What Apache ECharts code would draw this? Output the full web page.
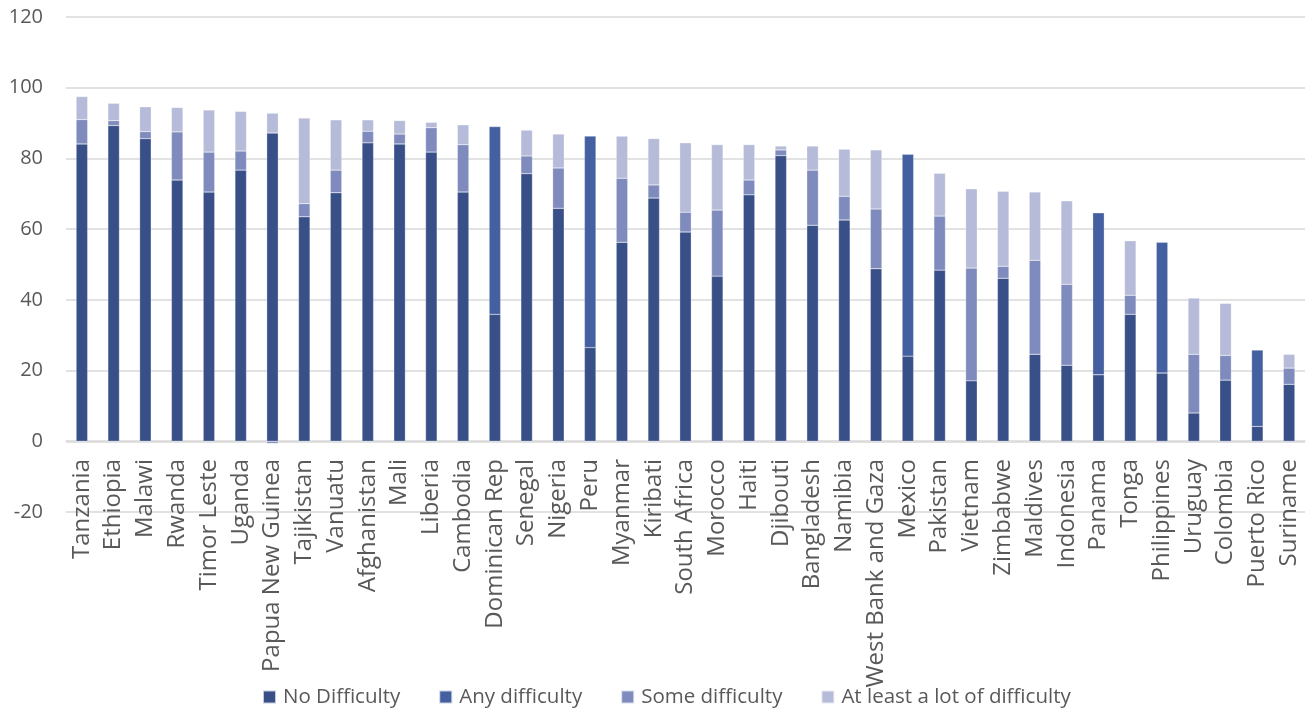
<!DOCTYPE html>
<html>
<head>
<meta charset="utf-8">
<script src="https://cdn.jsdelivr.net/npm/echarts@6/dist/echarts.min.js"></script>
<style>
  html, body { margin: 0; padding: 0; background: #fff; }
  #chart { width: 1307px; height: 709px; }
</style>
</head>
<body>
<div id="chart"></div>
<script>
// countries, sorted by share with no difficulty + difficulty (as in the source chart)
const countries = ['Tanzania', 'Ethiopia', 'Malawi', 'Rwanda', 'Timor Leste', 'Uganda', 'Papua New Guinea',
  'Tajikistan', 'Vanuatu', 'Afghanistan', 'Mali', 'Liberia', 'Cambodia', 'Dominican Rep', 'Senegal',
  'Nigeria', 'Peru', 'Myanmar', 'Kiribati', 'South Africa', 'Morocco', 'Haiti', 'Djibouti', 'Bangladesh',
  'Namibia', 'West Bank and Gaza', 'Mexico', 'Pakistan', 'Vietnam', 'Zimbabwe', 'Maldives', 'Indonesia',
  'Panama', 'Tonga', 'Philippines', 'Uruguay', 'Colombia', 'Puerto Rico', 'Suriname']

const noDifficulty = [84.1, 89.3, 85.6, 73.9, 70.5, 76.7, 87.2, 63.5, 70.3, 84.4, 84.1, 81.8, 70.5, 35.9, 75.7,
  65.9, 26.5, 56.3, 68.8, 59.2, 46.7, 69.7, 80.8, 61.1, 62.6, 48.8, 24.1, 48.4, 17.1, 46.1, 24.6, 21.5,
  18.8, 35.9, 19.3, 8.0, 17.3, 4.2, 16.1]

const anyDifficulty = [null, null, null, null, null, null, null, null, null, null, null, null, null, 53.1, null,
  null, 59.8, null, null, null, null, null, null, null, null, null, 57.1, null, null, null, null, null,
  45.8, null, 37.0, null, null, 21.6, null]

const someDifficulty = [6.9, 1.4, 2.0, 13.6, 11.3, 5.4, -0.6, 3.7, 6.4, 3.3, 2.8, 6.9, 13.4, null, 5.0,
  11.4, null, 18.1, 3.7, 5.6, 18.7, 4.2, 1.6, 15.6, 6.7, 16.9, null, 15.3, 31.9, 3.4, 26.6, 22.9,
  null, 5.4, null, 16.6, 7.0, null, 4.6]

const lotDifficulty = [6.5, 4.9, 7.0, 6.9, 11.9, 11.2, 5.6, 24.2, 14.2, 3.2, 3.8, 1.5, 5.6, null, 7.3,
  9.6, null, 11.9, 13.1, 19.6, 18.5, 10.0, 1.1, 6.8, 13.3, 16.7, null, 12.1, 22.4, 21.2, 19.3, 23.6,
  null, 15.4, null, 15.9, 14.7, null, 3.9]

const seriesNames = ['No Difficulty', 'Any difficulty', 'Some difficulty', 'At least a lot of difficulty']
const colors = ['#394f88', '#4560a0', '#7f8bbd', '#b5bbd8']

const font = '"Open Sans", sans-serif'
const chart = echarts.init(document.getElementById('chart'))

function bar (name, data) {
  return {
    name: name,
    type: 'bar',
    stack: 'total',
    barWidth: 11.5,
    data: data,
    itemStyle: { borderColor: 'rgba(255,255,255,0.7)', borderWidth: 0.4 }
  }
}

const option = {
  animation: false,
  color: colors,
  grid: { left: 66, right: 2, top: 17, bottom: 197 },
  legend: {
    top: 681,
    left: 257,
    itemWidth: 13,
    itemHeight: 13,
    itemGap: 38,
    icon: 'rect',
    textStyle: { fontFamily: font, fontSize: 20.5, lineHeight: 22, color: '#595959', padding: [0, 0, 0, 2] },
    data: seriesNames
  },
  xAxis: {
    type: 'category',
    data: countries,
    // axis sits on the zero line, 71px above the bottom of the grid
    offset: -71,
    axisLine: { onZero: false, lineStyle: { color: '#d9d9d9', width: 1.5 } },
    axisTick: { show: false },
    axisLabel: {
      rotate: 90,
      interval: 0,
      margin: 18,
      fontFamily: font,
      fontSize: 24,
      color: '#595959'
    }
  },
  yAxis: {
    type: 'value',
    min: -20,
    max: 120,
    interval: 20,
    axisLine: { show: false },
    axisTick: { show: false },
    splitLine: { lineStyle: { color: '#d9d9d9', width: 1.5 } },
    axisLabel: { margin: 23, fontFamily: font, fontSize: 20, color: '#595959' }
  },
  series: [
    bar(seriesNames[0], noDifficulty),
    bar(seriesNames[1], anyDifficulty),
    bar(seriesNames[2], someDifficulty),
    bar(seriesNames[3], lotDifficulty)
  ]
}

chart.setOption(option)
</script>
</body>
</html>
